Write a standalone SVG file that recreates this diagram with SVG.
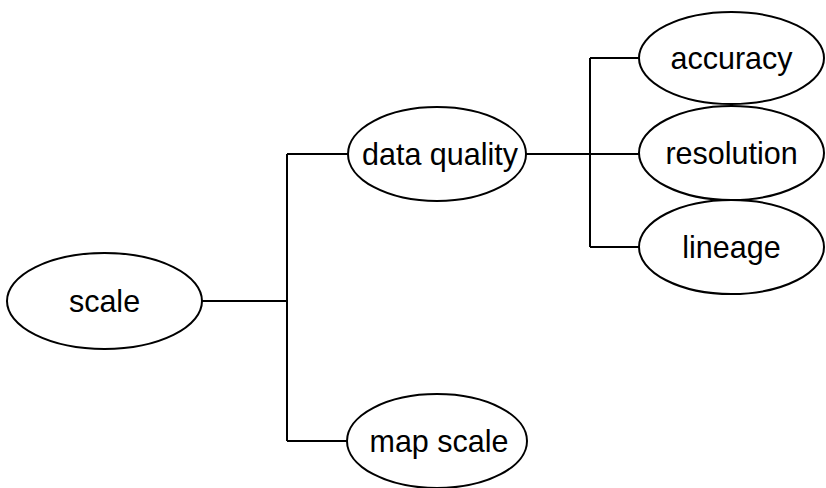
<svg xmlns="http://www.w3.org/2000/svg" width="826" height="488" viewBox="0 0 826 488">
<style>
.n ellipse{fill:#fff;stroke:#000;stroke-width:2}
.n text{font-family:"Liberation Sans",Arial,sans-serif;font-size:30.5px;text-anchor:middle;fill:#000}
#connectors path{fill:none;stroke:#000;stroke-width:2}
</style>
<rect width="826" height="488" fill="#fff"/>
<g id="connectors">
<path d="M202 301H287M287 154V441M287 154H348M287 441H347"/>
<path d="M525 154H639M590 58V247M590 58H639M590 247H640"/>
</g>
<g id="scale" class="n"><ellipse cx="104.5" cy="301" rx="97.5" ry="48"/><text x="104.5" y="312">scale</text></g>
<g id="data-quality" class="n"><ellipse cx="437" cy="154" rx="89" ry="47"/><text x="440" y="165">data quality</text></g>
<g id="map-scale" class="n"><ellipse cx="437" cy="441" rx="90" ry="47"/><text x="439" y="452">map scale</text></g>
<g id="accuracy" class="n"><ellipse cx="731.5" cy="58" rx="92.5" ry="46"/><text x="731.5" y="69">accuracy</text></g>
<g id="resolution" class="n"><ellipse cx="731.5" cy="153" rx="92.5" ry="47"/><text x="731.5" y="164">resolution</text></g>
<g id="lineage" class="n"><ellipse cx="731.5" cy="247" rx="92.5" ry="47"/><text x="731.5" y="258">lineage</text></g>
</svg>
